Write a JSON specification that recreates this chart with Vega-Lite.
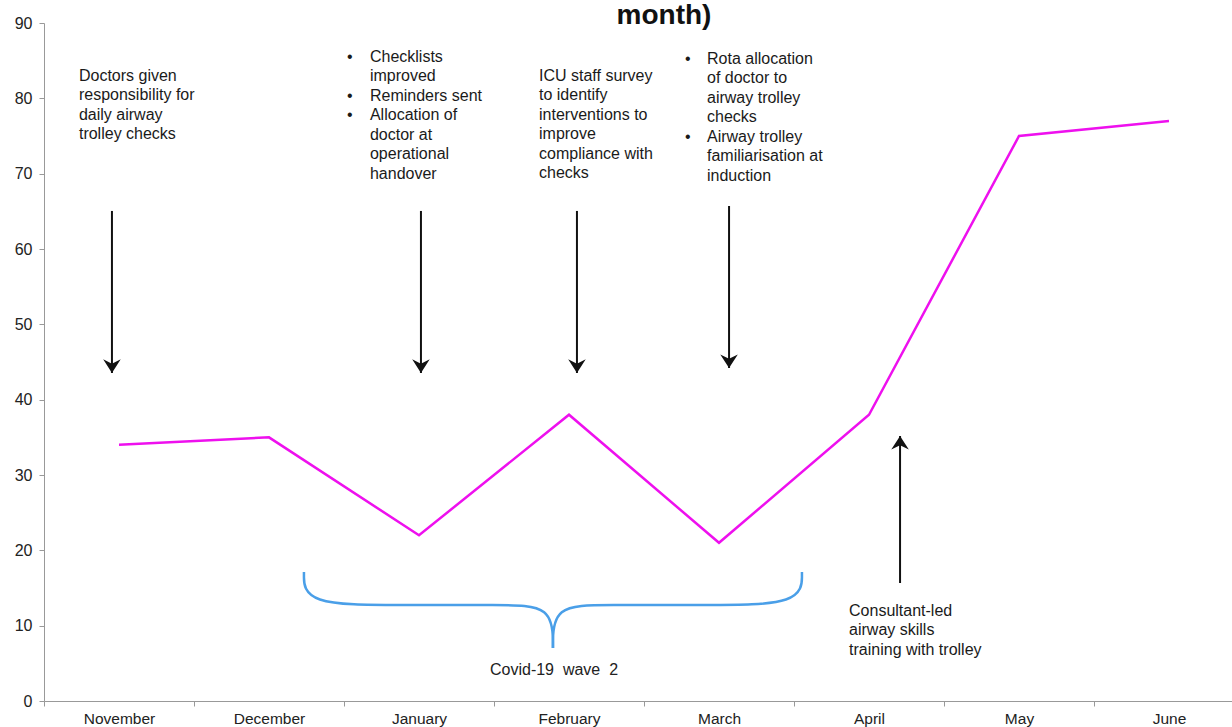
{
  "$schema": "https://vega.github.io/schema/vega-lite/v6.json",
  "autosize": {"type": "none"},
  "padding": {"left": 44, "top": 23, "right": 0, "bottom": 26},
  "width": 1188,
  "height": 678,
  "background": "white",
  "view": {"stroke": null},
  "datasets": {
    "series": [
      {"month": "November", "x": 0, "y": 34},
      {"month": "December", "x": 1, "y": 35},
      {"month": "January", "x": 2, "y": 22},
      {"month": "February", "x": 3, "y": 38},
      {"month": "March", "x": 4, "y": 21},
      {"month": "April", "x": 5, "y": 38},
      {"month": "May", "x": 6, "y": 75},
      {"month": "June", "x": 7, "y": 77}
    ],
    "arrows": [
      {"x": -0.047, "y": 43.54, "start": 65.05, "dir": "down"},
      {"x": 2.013, "y": 43.54, "start": 65.05, "dir": "down"},
      {"x": 3.053, "y": 43.54, "start": 65.05, "dir": "down"},
      {"x": 4.067, "y": 44.2, "start": 65.71, "dir": "down"},
      {"x": 5.207, "y": 35.18, "start": 15.66, "dir": "up"}
    ],
    "notes": [
      {"x": -0.267, "y": 84.03, "text": "Doctors given\nresponsibility for\ndaily airway\ntrolley checks"},
      {"x": 1.673, "y": 86.55, "text": "Checklists\nimproved\nReminders sent\nAllocation of\ndoctor at\noperational\nhandover"},
      {"x": 1.52, "y": 86.55, "text": "•"},
      {"x": 1.52, "y": 81.37, "text": "•"},
      {"x": 1.52, "y": 78.85, "text": "•"},
      {"x": 2.8, "y": 84.03, "text": "ICU staff survey\nto identify\ninterventions to\nimprove\ncompliance with\nchecks"},
      {"x": 3.92, "y": 86.29, "text": "Rota allocation\nof doctor to\nairway trolley\nchecks\nAirway trolley\nfamiliarisation at\ninduction"},
      {"x": 3.773, "y": 86.29, "text": "•"},
      {"x": 3.773, "y": 75.93, "text": "•"},
      {"x": 4.867, "y": 13.01, "text": "Consultant-led\nairway skills\ntraining with trolley"}
    ],
    "covid": [
      {"x": 2.9, "y": 5.18, "text": "Covid-19\u00a0 wave\u00a0 2"}
    ],
    "heading": [
      {"x": 3.633, "y": 89.87, "text": "month)"}
    ],
    "brace": [
      {"part": "left", "order": 0, "x": 1.233, "y": 17.12},
      {"part": "left", "order": 1, "x": 1.233, "y": 12.74},
      {"part": "left", "order": 2, "x": 1.873, "y": 12.74},
      {"part": "left", "order": 3, "x": 2.54, "y": 12.74},
      {"part": "left", "order": 4, "x": 2.893, "y": 12.74},
      {"part": "left", "order": 5, "x": 2.893, "y": 7.04},
      {"part": "right", "order": 0, "x": 4.553, "y": 17.12},
      {"part": "right", "order": 1, "x": 4.553, "y": 12.74},
      {"part": "right", "order": 2, "x": 3.913, "y": 12.74},
      {"part": "right", "order": 3, "x": 3.247, "y": 12.74},
      {"part": "right", "order": 4, "x": 2.893, "y": 12.74},
      {"part": "right", "order": 5, "x": 2.893, "y": 7.04}
    ]
  },
  "encoding": {
    "x": {
      "field": "x",
      "type": "quantitative",
      "scale": {"domain": [-0.5, 7.42], "nice": false, "zero": false},
      "axis": {
        "title": null,
        "values": [0, 1, 2, 3, 4, 5, 6, 7],
        "labelExpr": "['November','December','January','February','March','April','May','June'][datum.value]",
        "tickOffset": -75,
        "labelOffset": 75,
        "grid": false,
        "domainColor": "#999999",
        "tickColor": "#999999",
        "tickSize": 5,
        "labelFont": "Liberation Sans",
        "labelFontSize": 15.5,
        "labelColor": "#222222",
        "labelPadding": 5,
        "labelFlush": false,
        "labelOverlap": false,
        "labelBound": false
      }
    },
    "y": {
      "field": "y",
      "type": "quantitative",
      "scale": {"domain": [0, 90], "nice": false},
      "axis": {
        "title": null,
        "values": [0, 10, 20, 30, 40, 50, 60, 70, 80, 90],
        "grid": false,
        "domainColor": "#999999",
        "tickColor": "#999999",
        "tickSize": 5,
        "labelFont": "Liberation Sans",
        "labelFontSize": 16,
        "labelColor": "#222222",
        "labelPadding": 7,
        "labelOverlap": false
      }
    }
  },
  "layer": [
    {
      "data": {"name": "brace"},
      "mark": {"type": "line", "interpolate": "basis", "color": "#4A9FE8", "strokeWidth": 2.5},
      "encoding": {
        "detail": {"field": "part"},
        "order": {"field": "order", "type": "quantitative"}
      }
    },
    {
      "data": {"name": "series"},
      "mark": {"type": "line", "color": "#EE10EE", "strokeWidth": 2.5},
      "encoding": {}
    },
    {
      "data": {"name": "arrows"},
      "mark": {"type": "rule", "color": "#111111", "strokeWidth": 2},
      "encoding": {
        "y2": {"field": "start"}
      }
    },
    {
      "data": {"name": "arrows"},
      "mark": {"type": "point", "filled": true, "color": "#111111", "opacity": 1, "size": 380},
      "encoding": {
        "shape": {
          "field": "dir",
          "type": "nominal",
          "scale": {
            "domain": ["down", "up"],
            "range": [
              "M0,0L-0.9,-1.4L0,-0.95L0.9,-1.4Z",
              "M0,0L-0.9,1.4L0,0.95L0.9,1.4Z"
            ]
          },
          "legend": null
        }
      }
    },
    {
      "data": {"name": "notes"},
      "mark": {"type": "text", "align": "left", "baseline": "top", "font": "Liberation Sans", "fontSize": 16, "lineBreak": "\n", "lineHeight": 19.5, "color": "#1a1a1a"},
      "encoding": {"text": {"field": "text"}}
    },
    {
      "data": {"name": "covid"},
      "mark": {"type": "text", "align": "center", "baseline": "top", "font": "Liberation Sans", "fontSize": 16, "color": "#222222"},
      "encoding": {"text": {"field": "text"}}
    },
    {
      "data": {"name": "heading"},
      "mark": {"type": "text", "align": "center", "baseline": "alphabetic", "font": "Liberation Sans", "fontSize": 28, "fontWeight": "bold", "color": "#111111"},
      "encoding": {"text": {"field": "text"}}
    }
  ]
}
